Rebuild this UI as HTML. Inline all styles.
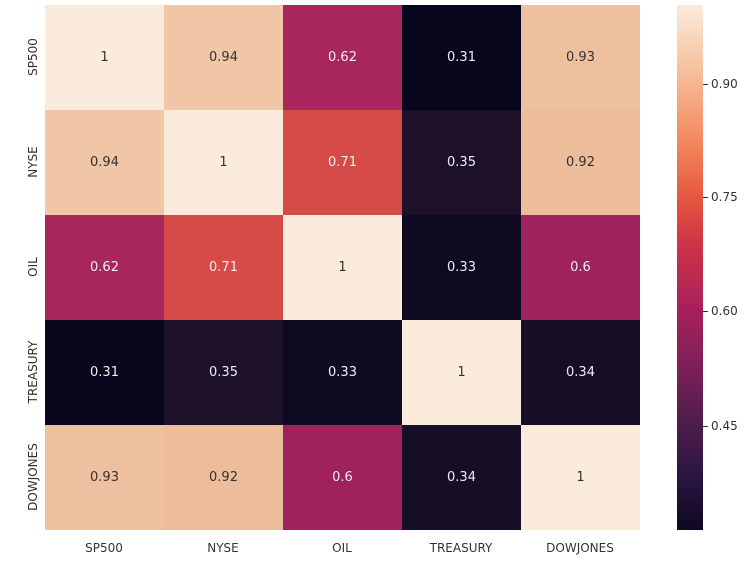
<!DOCTYPE html>
<html><head><style>
body{margin:0;background:#fff;width:754px;height:566px;position:relative;font-family:"DejaVu Sans","Liberation Sans",sans-serif;overflow:hidden}
.c{position:absolute;width:119px;height:105px;display:flex;align-items:center;justify-content:center;font-size:13px}
.yl{position:absolute;left:33px;transform:translate(-50%,-50%) rotate(-90deg);font-size:12px;color:#333;white-space:nowrap}
.xl{position:absolute;top:541px;transform:translateX(-50%);font-size:12px;color:#333}
.tk{position:absolute;left:703px;font-size:12px;color:#333}
.tk:before{content:"";display:inline-block;width:5px;height:1px;background:#333;vertical-align:middle;margin-right:3px}
</style></head><body>
<div id="g"></div>
<div style="position:absolute;left:677px;top:5px;width:26px;height:525px;background:linear-gradient(to top,#0d0820 0%,#2a1540 10%,#4c1d4b 20%,#7a1f58 30%,#a8205b 42%,#d03547 55%,#e5563f 63%,#f08058 72%,#f5a57c 81%,#f7c9a9 90%,#faebdd 100%)"></div>
<div class="tk" style="top:77px">0.90</div>
<div class="tk" style="top:190px">0.75</div>
<div class="tk" style="top:304px">0.60</div>
<div class="tk" style="top:419px">0.45</div>
<script>
var v=[[1,.94,.62,.31,.93],[.94,1,.71,.35,.92],[.62,.71,1,.33,.6],[.31,.35,.33,1,.34],[.93,.92,.6,.34,1]];
var col={"1":"#faebdd",".94":"#f0c6a6",".93":"#efc09f",".92":"#edbc9a",".71":"#d64a47",".62":"#a8265c",".6":"#9f225c",".35":"#1c1129",".34":"#160d26",".33":"#0f0a22",".31":"#07061c"};
var n=["SP500","NYSE","OIL","TREASURY","DOWJONES"],h="";
for(var i=0;i<5;i++){for(var j=0;j<5;j++){var x=v[i][j],k=String(x).replace(/^0/,"");var s=x==1?"1":String(x);
h+='<div class="c" style="left:'+(45+119*j)+'px;top:'+(5+105*i)+'px;background:'+col[k]+';color:'+(x>0.8?'#333':'#eee')+'">'+s+'</div>';}
h+='<div class="yl" style="top:'+(57+105*i)+'px">'+n[i]+'</div>';
h+='<div class="xl" style="left:'+(104+119*i)+'px">'+n[i]+'</div>';}
document.getElementById("g").innerHTML=h;
</script>
</body></html>
